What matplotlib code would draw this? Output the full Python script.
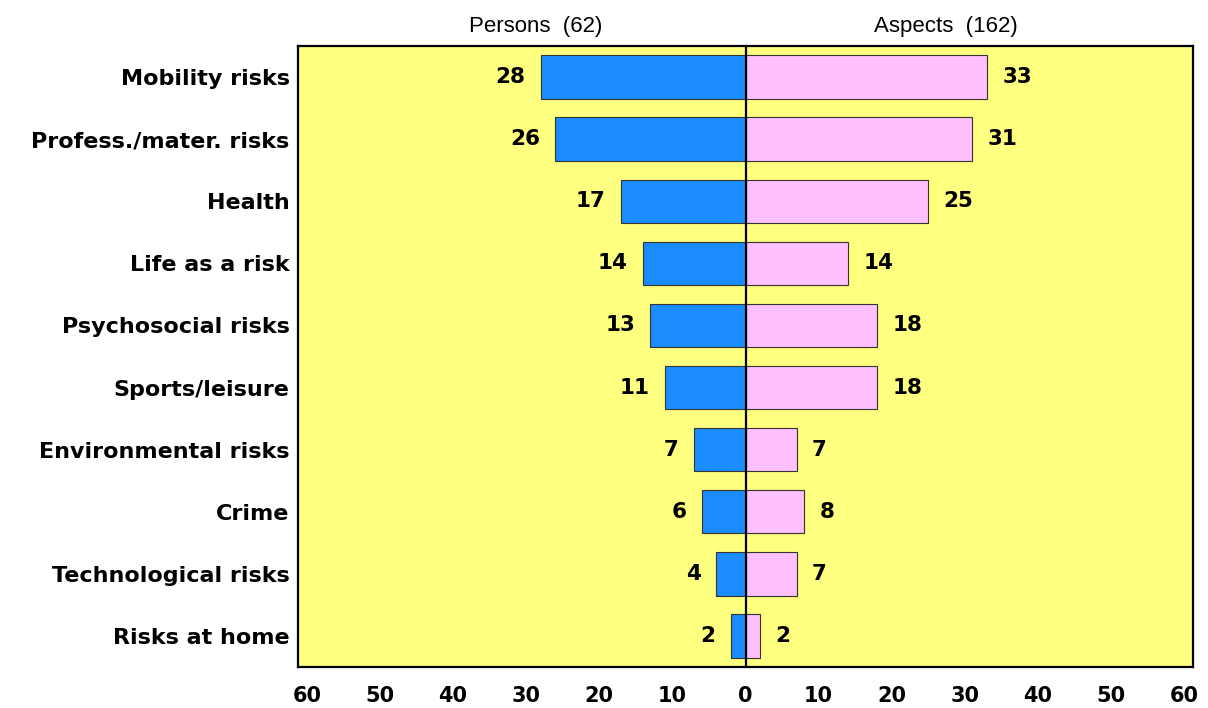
import numpy as np
import matplotlib.pyplot as plt

#%% Data
categories = ['Mobility risks', 'Profess./mater. risks', 'Health', 'Life as a risk',
              'Psychosocial risks', 'Sports/leisure', 'Environmental risks', 'Crime',
              'Technological risks', 'Risks at home']
persons = [28, 26, 17, 14, 13, 11, 7, 6, 4, 2]
aspects = [33, 31, 25, 14, 18, 18, 7, 8, 7, 2]
tick_values = [-60, -50, -40, -30, -20, -10, 0, 10, 20, 30, 40, 50, 60]
tick_labels = ['60', '50', '40', '30', '20', '10', '0', '10', '20', '30', '40', '50', '60']

#%% Plot
fig = plt.figure(figsize=(12.08, 7.08), dpi=100)
ax = fig.add_axes([0.2467, 0.0579, 0.9876 - 0.2467, 0.935 - 0.0579])
ax.set_facecolor('#FFFF80')

y = np.arange(len(categories))
ax.barh(y, [-p for p in persons], height=0.7, color='#1A8CFF', edgecolor='#333333', linewidth=0.8)
ax.barh(y, aspects, height=0.7, color='#FFC0FF', edgecolor='#333333', linewidth=0.8)
ax.axvline(0, color='black', linewidth=1.6)

for yi, p, a in zip(y, persons, aspects):
    ax.text(-p - 2.1, yi, str(p), ha='right', va='center', fontsize=15.5, fontweight='bold')
    ax.text(a + 2.1, yi, str(a), ha='left', va='center', fontsize=15.5, fontweight='bold')

ax.set_xlim(-61.2, 61.2)
ax.set_ylim(len(categories) - 0.5, -0.5)
ax.set_yticks(y)
ax.set_yticklabels(categories, fontsize=16, fontweight='bold')
ax.set_xticks(tick_values)
ax.set_xticklabels(tick_labels, fontsize=15, fontweight='bold')
ax.tick_params(length=0, pad=6)
ax.tick_params(axis='x', pad=14)
for s in ax.spines.values():
    s.set_linewidth(1.6)

ax.text(-28.7, 1.032, 'Persons  (62)', transform=ax.get_xaxis_transform(),
        ha='center', va='center', fontsize=16, family='Liberation Sans')
ax.text(27.4, 1.032, 'Aspects  (162)', transform=ax.get_xaxis_transform(),
        ha='center', va='center', fontsize=16, family='Liberation Sans')

plt.savefig('out.png', dpi=100)
